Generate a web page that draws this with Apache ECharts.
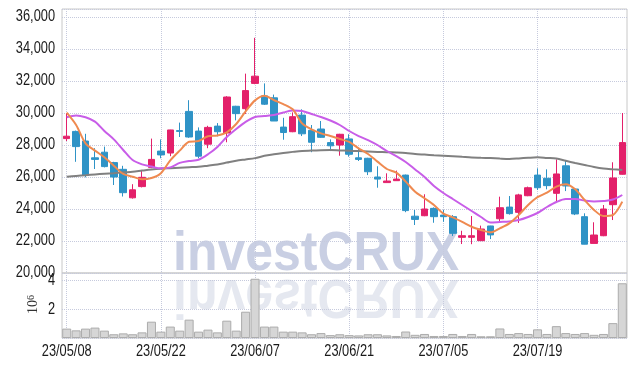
<!DOCTYPE html>
<html><head><meta charset="utf-8">
<script src="https://cdn.jsdelivr.net/npm/echarts@6/dist/echarts.min.js"></script>
<style>html,body{margin:0;padding:0;background:#fff}#c{width:635px;height:366px}</style>
</head><body><div id="c"></div>
<script>
const dates = ['23/05/08','23/05/09','23/05/10','23/05/11','23/05/12','23/05/15','23/05/16','23/05/17','23/05/18','23/05/19',
'23/05/22','23/05/23','23/05/24','23/05/25','23/05/26','23/05/30','23/05/31','23/06/01','23/06/02','23/06/05',
'23/06/07','23/06/08','23/06/09','23/06/12','23/06/13','23/06/14','23/06/15','23/06/16','23/06/19','23/06/20',
'23/06/21','23/06/22','23/06/23','23/06/26','23/06/27','23/06/28','23/06/29','23/06/30','23/07/03','23/07/04',
'23/07/05','23/07/06','23/07/07','23/07/10','23/07/11','23/07/12','23/07/13','23/07/14','23/07/17','23/07/18',
'23/07/19','23/07/20','23/07/21','23/07/24','23/07/25','23/07/26','23/07/27','23/07/28','23/07/31','23/08/01'];

const opens  = [28400,28850,28250,27200,27550,26900,26480,24700,25400,26600,
27620,27500,28900,30100,28870,28050,29180,28750,30420,30270,
31850,31070,30950,29120,28830,29870,28920,29000,28150,28000,
28380,27200,27170,26000,25650,25770,26120,23550,23580,24040,
23620,23520,22230,22230,22020,22940,23390,24120,23790,24830,
26120,25920,24980,26700,25250,23520,21850,22330,24270,26170];
const closes = [28550,27900,26100,27100,26650,26000,25020,25200,25980,27100,
27380,28940,28850,28500,27300,29100,28830,31000,29960,31400,
32300,30550,29500,28780,29770,28700,28170,28480,27950,28670,
27420,27100,26330,25870,25750,25870,23900,23350,24000,23520,
23520,22480,22330,22330,22750,22380,24080,23710,24880,25330,
25330,25460,26190,25440,23690,21800,22375,24000,25940,28150];
const lows   = [28250,26950,25980,26500,26600,25500,24780,24650,25350,26550,
27170,27300,28500,28450,27170,27800,28540,28170,29540,29940,
31800,30500,29500,28330,28800,28560,27550,28450,27620,27330,
27270,27000,26120,25330,25650,25770,23800,23000,23550,23140,
23200,22310,21810,21800,22000,22120,23250,23650,23130,24800,
25190,25230,24460,25120,23620,21790,21850,22300,23310,26150];
const highs  = [30000,28900,28700,27800,27900,26950,26700,25550,26400,28400,
28350,28950,29400,30800,29100,29200,29370,31050,30450,32460,
34700,31850,31150,29700,30040,30230,29250,29500,28350,28700,
28670,27830,27200,26670,26230,26400,26150,23940,24920,24100,
23940,23620,22640,23560,22960,22950,24770,24810,24950,25400,
26540,26480,27100,27000,25300,23730,23170,24250,26920,30000];

const ma5  = [30020,29250,28100,27650,27230,26710,26190,26020,25860,25940,
26240,27040,27650,28200,28250,28550,28600,28790,29310,30100,
30790,31080,30810,30560,30230,29350,28980,28730,28560,28375,
28190,27790,27440,26960,26500,26270,25710,25080,24670,24250,
23710,23480,23200,22890,22690,22540,22790,23100,23625,24250,
24740,25020,25400,25550,25230,24560,23940,23560,23625,24460];
const ma20 = [29730,29850,29730,29460,28875,28350,27690,27060,26790,26650,
26540,26600,26880,27000,27080,27420,27880,28500,29000,29440,
29750,29810,29870,30030,30160,30125,29940,29750,29530,29250,
28875,28560,28310,28000,27625,27310,26940,26470,26000,25440,
25000,24625,24250,23875,23500,23160,23190,23220,23310,23500,
23750,24125,24440,24625,24625,24530,24470,24500,24590,24875];
const ma60 = [26020,26070,26110,26160,26200,26240,26290,26325,26400,26470,
26520,26550,26580,26610,26640,26710,26780,26900,27020,27100,
27180,27325,27420,27500,27570,27630,27650,27670,27680,27660,
27640,27620,27600,27570,27550,27530,27500,27440,27400,27360,
27330,27300,27260,27220,27200,27180,27150,27130,27160,27200,
27230,27190,27150,27010,26875,26750,26625,26530,26480,26440];

const volumes = [0.65,0.53,0.65,0.72,0.51,0.26,0.32,0.26,0.39,1.13,
0.44,0.79,0.51,1.27,0.44,0.58,0.39,1.20,0.51,1.82,
4.10,0.79,0.79,0.44,0.44,0.39,0.26,0.34,0.20,0.26,
0.20,0.18,0.26,0.26,0.18,0.14,0.45,0.22,0.28,0.14,
0.14,0.28,0.14,0.28,0.12,0.12,0.66,0.28,0.34,0.28,
0.60,0.28,0.82,0.34,0.28,0.34,0.22,0.28,1.03,3.79];

// Axis labels in the reference use a narrow face; condense the drawn glyphs horizontally.
const FONT = '"Liberation Sans", narrowmark';
(function(){
  const proto = CanvasRenderingContext2D.prototype;
  const origFill = proto.fillText;
  proto.fillText = function(t, x, y, mw){
    if (this.font && this.font.indexOf('narrowmark') >= 0) {
      this.save(); this.translate(x, y); this.scale(0.8, 1);
      origFill.call(this, t, 0, 0); this.restore();
    } else if (mw !== undefined) { origFill.call(this, t, x, y, mw); }
    else { origFill.call(this, t, x, y); }
  };
})();

const UP = '#e3206a', DOWN = '#2f93c6';
const GRIDC = '#c6cadd';

const chart = echarts.init(document.getElementById('c'), null, {renderer:'canvas'});
const ohlc = dates.map((d,i)=>[opens[i], closes[i], lows[i], highs[i]]);

chart.setOption({
  animation:false,
  backgroundColor:'#fff',
  grid:[
    {left:62, right:8, top:9, height:264, show:true, borderColor:'#c8c8c8', borderWidth:1, backgroundColor:'transparent'},
    {left:62, right:8, top:273, height:65, show:true, borderColor:'#c8c8c8', borderWidth:1, backgroundColor:'transparent'}
  ],
  graphic:[
    {type:'text', x:173, y:282, z:-10, scaleY:1.1, silent:true,
     style:{text:'investCRUX', font:'bold 50px "Liberation Sans", Arial, sans-serif', fill:'#c9cfe3', align:'left', verticalAlign:'bottom'}},
    {type:'text', x:173, y:268, z:-10, scaleY:-1.1, silent:true,
     style:{text:'investCRUX', font:'bold 50px "Liberation Sans", Arial, sans-serif', fill:'#e5e8f0', align:'left', verticalAlign:'bottom'}},
    {type:'text', x:33, y:314, rotation:Math.PI/2, silent:true,
     style:{text:'10{s|6}', font:'14px "Liberation Serif", serif', fill:'#333', align:'left', verticalAlign:'middle',
       rich:{s:{font:'10px "Liberation Serif", serif', fill:'#333', verticalAlign:'top'}}}}
  ],
  xAxis:[
    {type:'category', gridIndex:0, data:dates, boundaryGap:true,
     axisLine:{show:false}, axisTick:{show:false}, axisLabel:{show:false},
     splitLine:{show:true, interval:9, alignWithLabel:true, lineStyle:{color:GRIDC, type:'dotted', width:1}}},
    {type:'category', gridIndex:1, data:dates, boundaryGap:true,
     axisLine:{show:false}, axisTick:{show:false},
     axisLabel:{show:true, interval:9, fontFamily:FONT, fontSize:16, color:'#1a1a1a', margin:6},
     splitLine:{show:true, interval:9, alignWithLabel:true, lineStyle:{color:GRIDC, type:'dotted', width:1}}}
  ],
  yAxis:[
    {type:'value', gridIndex:0, min:20000, max:36500, interval:2000, scale:true,
     axisLine:{show:false}, axisTick:{show:false},
     axisLabel:{fontFamily:FONT, fontSize:16, color:'#1a1a1a', margin:7, showMaxLabel:false,
       formatter:v=>v.toLocaleString('en-US')},
     splitLine:{show:true, lineStyle:{color:GRIDC, type:'dotted', width:1}}},
    {type:'value', gridIndex:1, min:0, max:4.5, interval:2,
     axisLine:{show:false}, axisTick:{show:false},
     axisLabel:{fontFamily:FONT, fontSize:16, color:'#1a1a1a', margin:7, showMaxLabel:false, showMinLabel:false},
     splitLine:{show:true, lineStyle:{color:GRIDC, type:'dotted', width:1}}}
  ],
  series:[
    {type:'bar', xAxisIndex:1, yAxisIndex:1, data:volumes, barCategoryGap:'4%', z:2,
     itemStyle:{color:'#d6d6d6', borderColor:'#acacac', borderWidth:1}},
    {type:'candlestick', xAxisIndex:0, yAxisIndex:0, data:ohlc, barWidth:7, z:2,
     itemStyle:{color:UP, color0:DOWN, borderColor:UP, borderColor0:DOWN, borderWidth:1}},
    {type:'line', xAxisIndex:0, yAxisIndex:0, data:ma60, symbol:'none', smooth:0.3, z:3,
     lineStyle:{color:'#808080', width:2}},
    {type:'line', xAxisIndex:0, yAxisIndex:0, data:ma20, symbol:'none', smooth:0.3, z:3,
     lineStyle:{color:'#c85de8', width:2}},
    {type:'line', xAxisIndex:0, yAxisIndex:0, data:ma5, symbol:'none', smooth:0.3, z:3,
     lineStyle:{color:'#ef8a50', width:2}}
  ]
});
</script></body></html>
